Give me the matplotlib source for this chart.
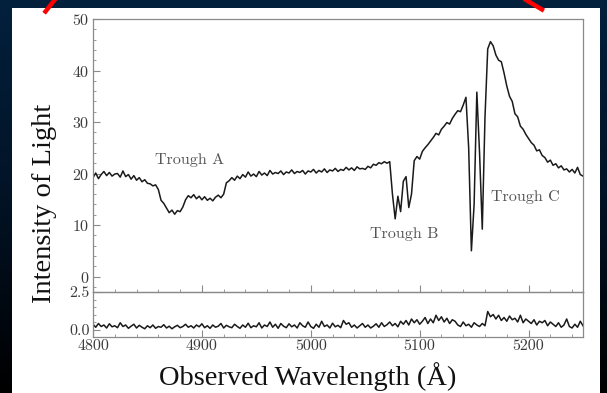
import numpy as np
import matplotlib
matplotlib.use("Agg")
import matplotlib.pyplot as plt
from matplotlib.ticker import MultipleLocator, FixedLocator, FormatStrFormatter
from matplotlib.lines import Line2D
from matplotlib.patches import Rectangle
from matplotlib.colors import LinearSegmentedColormap

plt.rcParams['font.family'] = 'serif'
plt.rcParams['font.serif'] = ['cmr10', 'DejaVu Serif']
plt.rcParams['mathtext.fontset'] = 'cm'
plt.rcParams['axes.unicode_minus'] = False
plt.rcParams['axes.formatter.use_mathtext'] = True

# ---------------- data ----------------
wavelength = np.arange(4800, 5250.1, 2.5)

intensity = [
    19.2, 20.1, 19.0, 19.8, 20.4, 19.6, 20.2, 19.5, 19.9, 20.0,
    19.3, 20.5, 19.4, 19.8, 18.9, 19.6, 18.7, 19.2, 18.4, 18.8, 18.1,
    18.0, 17.6, 17.8, 16.9, 14.8, 14.2, 13.3, 12.4, 12.9, 12.1,
    12.8, 12.6, 13.5, 14.9, 15.7, 15.3, 15.9, 15.1, 15.6, 14.9,
    15.5, 14.8, 15.2, 14.7, 15.4, 15.8, 15.3, 16.0, 18.2, 18.6,
    19.2, 18.7, 19.5, 19.0, 19.8, 19.3, 20.3, 19.5, 19.9, 19.4,
    20.4, 19.7, 20.1, 19.6, 20.6, 19.9, 20.2, 20.0, 20.5, 19.8,
    20.3, 20.1, 20.7, 20.0, 20.4, 20.2, 20.6, 19.9, 20.5, 20.3,
    20.8, 20.1, 20.6, 20.3, 20.9, 20.2, 20.7, 20.5, 21.0, 20.4,
    20.8, 20.6, 21.2, 20.7, 21.1, 20.6, 21.3, 20.9, 21.0, 20.8,
    21.4, 21.1, 21.8, 21.6, 22.1, 21.9, 22.3, 22.0, 22.3, 16.0,
    11.2, 15.6, 12.6, 18.5, 19.4, 13.4, 16.0, 22.5, 23.3, 22.8,
    24.3, 25.0, 25.6, 26.3, 27.0, 27.8, 27.5, 28.6, 29.2, 29.9,
    29.6, 30.7, 31.5, 32.2, 32.0, 33.3, 34.8, 25.0, 5.0, 14.0,
    35.8, 24.0, 9.2, 31.0, 44.2, 45.6, 44.8, 43.0, 42.0, 41.7,
    39.5, 37.0, 35.0, 34.0, 31.6, 31.0, 29.2, 28.6, 27.6, 26.8,
    26.0, 25.5, 24.4, 24.6, 23.5, 23.1, 22.2, 22.6, 21.6, 21.9,
    21.1, 21.5, 20.7, 20.9, 20.3, 20.8, 20.1, 21.2, 19.8, 19.5,
]

residual = [
    0.35, 0.15, 0.40, 0.20, 0.30, 0.10, 0.38, 0.18, 0.25, 0.12,
    0.45, 0.20, 0.30, 0.08, 0.22, 0.35, 0.10, 0.28, 0.15, 0.05, 0.25,
    0.12, 0.30, 0.08, 0.20, 0.15, 0.32, 0.10, 0.22, 0.05, 0.18,
    0.28, 0.12, 0.20, 0.35, 0.15, 0.25, 0.10, 0.30, 0.18, 0.38,
    0.12, 0.25, 0.08, 0.30, 0.15, 0.22, 0.40, 0.10, 0.28, 0.18,
    0.12, 0.35, 0.20, 0.08, 0.30, 0.15, 0.42, 0.12, 0.25, 0.18,
    0.45, 0.10, 0.30, 0.20, 0.50, 0.15, 0.35, 0.08, 0.40, 0.22,
    0.12, 0.38, 0.18, 0.30, 0.10, 0.45, 0.25, 0.15, 0.50, 0.20,
    0.08, 0.35, 0.15, 0.55, 0.20, 0.30, 0.10, 0.42, 0.18, 0.28,
    0.12, 0.60, 0.35, 0.45, 0.15, 0.30, 0.10, 0.25, 0.40, 0.15,
    0.30, 0.10, 0.22, 0.38, 0.15, 0.45, 0.20, 0.32, 0.50, 0.25,
    0.40, 0.18, 0.55, 0.35, 0.60, 0.30, 0.70, 0.45, 0.65, 0.35,
    0.55, 0.80, 0.40, 0.70, 0.45, 0.95, 0.60, 0.85, 0.50, 0.75,
    0.40, 0.65, 0.55, 0.30, 0.20, 0.50, 0.25, 0.35, 0.15, 0.45,
    0.30, 0.20, 0.40, 0.25, 1.20, 0.85, 1.00, 0.70, 0.95, 0.60,
    0.80, 0.55, 0.90, 0.65, 0.75, 0.50, 0.95, 0.45, 0.70, 0.55,
    0.40, 0.65, 0.30, 0.55, 0.45, 0.60, 0.25, 0.50, 0.35, 0.20,
    0.45, 0.15, 0.30, 0.70, 0.20, 0.10, 0.35, 0.15, 0.55, 0.25,
]

main_yticks = [0, 10, 20, 30, 40, 50]
resid_yticks = [0.0, 2.5]
xticks = [4800, 4900, 5000, 5100, 5200]

labels = ["Trough A", "Trough B", "Trough C"]
label_x = [4889, 5086, 5197]
label_y = [22.6, 8.2, 15.4]

# ---------------- figure ----------------
W, H = 607, 393
fig = plt.figure(figsize=(W / 100, H / 100), dpi=100)

# slide background
bg = fig.add_axes([0, 0, 1, 1], zorder=-10)
grad = np.linspace(0, 1, 256).reshape(-1, 1)
cmap = LinearSegmentedColormap.from_list("bg", ["#03203d", "#021326", "#000000"])
bg.imshow(grad, aspect='auto', cmap=cmap, extent=[0, 1, 0, 1])
bg.set_axis_off()
bg.add_patch(Rectangle((12 / W, 0), 588 / W, (H - 8) / H, transform=bg.transAxes,
                       facecolor='white', edgecolor='none', zorder=2))
bg.set_xlim(0, 1)
bg.set_ylim(0, 1)

# red decoration lines
fig.add_artist(Line2D([45.5 / W, 54.5 / W], [1 - 11.5 / H, 1.0], color='#ff0000',
                      linewidth=3.2, transform=fig.transFigure, zorder=5))
fig.add_artist(Line2D([526 / W, 542 / W], [1.0, 1 - 9.5 / H], color='#ff0000',
                      linewidth=3.2, transform=fig.transFigure, zorder=5))

left = 93 / W
width = 490 / W
ax = fig.add_axes([left, 1 - 292 / H, width, 273 / H])
axr = fig.add_axes([left, 1 - 337 / H, width, 45 / H], sharex=ax)

spine_color = '#8a8a8a'
tick_color = '#3a3a3a'

ax.plot(wavelength, intensity, color='#1a1a1a', linewidth=1.1)
axr.plot(wavelength, residual, color='#1a1a1a', linewidth=1.1)

ax.set_xlim(4800, 5250)
ax.set_ylim(-3, 50)
axr.set_ylim(-0.5, 2.5)

for a in (ax, axr):
    a.set_facecolor('none')
    for s in a.spines.values():
        s.set_color(spine_color)
        s.set_linewidth(0.9)
    a.tick_params(which='both', direction='in', top=False, right=False,
                  color=spine_color, labelcolor=tick_color, labelsize=11.5, pad=2.5)
    a.tick_params(which='major', length=5, width=0.8)
    a.tick_params(which='minor', length=2.5, width=0.6)
    a.xaxis.set_major_locator(FixedLocator(xticks))
    a.xaxis.set_minor_locator(MultipleLocator(20))

ax.yaxis.set_major_locator(FixedLocator(main_yticks))
ax.yaxis.set_minor_locator(MultipleLocator(2))
ax.tick_params(axis='x', labelbottom=False)

axr.yaxis.set_major_locator(FixedLocator(resid_yticks))
axr.yaxis.set_minor_locator(MultipleLocator(0.5))
axr.yaxis.set_major_formatter(FormatStrFormatter('%.1f'))
axr.xaxis.set_major_formatter(FormatStrFormatter('%d'))
axr.tick_params(axis='x', pad=1.5)

for t, x, y in zip(labels, label_x, label_y):
    ax.text(x, y, t, ha='center', va='center', fontsize=11.5, color='#555555')

fig.text(308 / W, 1 - 385 / H, "Observed Wavelength (Å)", ha='center', va='baseline',
         fontsize=20.5, family='Liberation Serif', color='#111111')
fig.text(45 / W, 1 - 203 / H, "Intensity of Light", ha='center', va='center',
         rotation=90, fontsize=20.5, family='Liberation Serif', color='#111111')

fig.savefig("out.png", dpi=100, facecolor=fig.get_facecolor())
